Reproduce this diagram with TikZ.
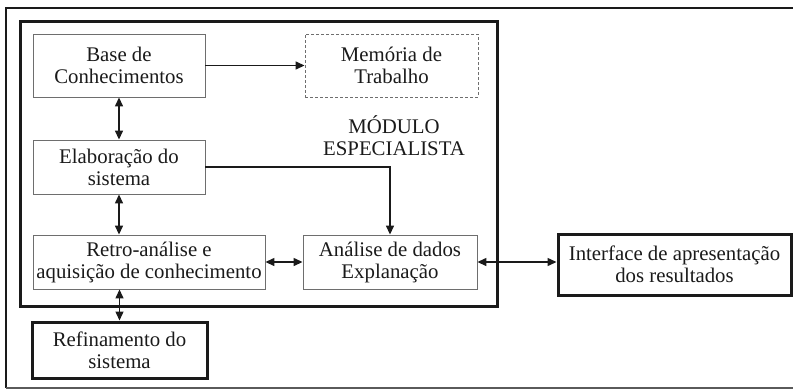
\documentclass[tikz,border=0pt]{standalone}
\usepackage{fontspec}
\setmainfont{Liberation Serif}
\usetikzlibrary{positioning, arrows.meta}
\definecolor{boxline}{HTML}{6E6E6E}
\definecolor{inkdark}{HTML}{1A1A1A}
\definecolor{framegray}{HTML}{5A5A5A}

\begin{document}
\begin{tikzpicture}[x=1pt, y=-1pt,
    blockcell/.style={draw=boxline, line width=0.9pt, rectangle, minimum width=172pt, minimum height=54pt, align=center, inner sep=2pt, font=\fontsize{20.8}{22}\selectfont, text=inkdark},
    memcell/.style={blockcell, dash pattern=on 3pt off 2pt},
    outcell/.style={blockcell, draw=inkdark, line width=3pt},
    modframe/.style={draw=inkdark, line width=3pt, rectangle, minimum width=477pt, minimum height=285pt},
    modlabel/.style={draw=none, align=center, font=\fontsize{20.8}{22}\selectfont, text=inkdark},
    link/.style={line width=1.4pt, draw=inkdark, -{Triangle[length=9pt,width=8pt]}},
    duallink/.style={link, {Triangle[length=9pt,width=8pt]}-{Triangle[length=9pt,width=8pt]}},
]
\useasboundingbox (0,0) rectangle (793,389);

% page frame
\draw[inkdark, line width=2.5pt] (793,8) -- (6,8) -- (6,388);
\draw[framegray, line width=1.2pt] (6,388) -- (793,388);

% module box
\node[modframe] (modulo) at (258.5,163.5) {};
\node[modlabel] (modtxt) at (394,136) {MÓDULO\\ESPECIALISTA};

\node[blockcell, minimum height=63pt] (base) at (119,65.5) {Base de\\Conhecimentos};
\node[memcell, minimum width=173pt, minimum height=63pt] (memoria) at (391.5,65.5) {Memória de\\Trabalho};
\node[blockcell] (elab) at (119,167) {Elaboração do\\sistema};
\node[blockcell, minimum width=232pt] (retro) at (149,262) {Retro-análise e\\aquisição de conhecimento};
\node[blockcell, minimum width=174pt] (analise) at (390,262) {Análise de dados\\Explanação};
\node[outcell, minimum width=233pt, minimum height=61pt] (interface) at (674.5,264.5) {Interface de apresentação\\dos resultados};
\node[outcell, minimum width=175pt, minimum height=56pt] (refin) at (119.5,350) {Refinamento do\\sistema};

% connectors
\draw[link] (base.east) -- (memoria.west);
\draw[duallink] (base.south) -- (elab.north);
\draw[duallink] (elab.south) -- (elab.south |- retro.north);
\draw[link] (elab.east) -| (analise.north);
\draw[duallink] (retro.east) -- (analise.west);
\draw[duallink] (analise.east) -- (analise.east -| interface.west);
\draw[duallink] (refin.north) -- (refin.north |- retro.south);
\end{tikzpicture}
\end{document}
